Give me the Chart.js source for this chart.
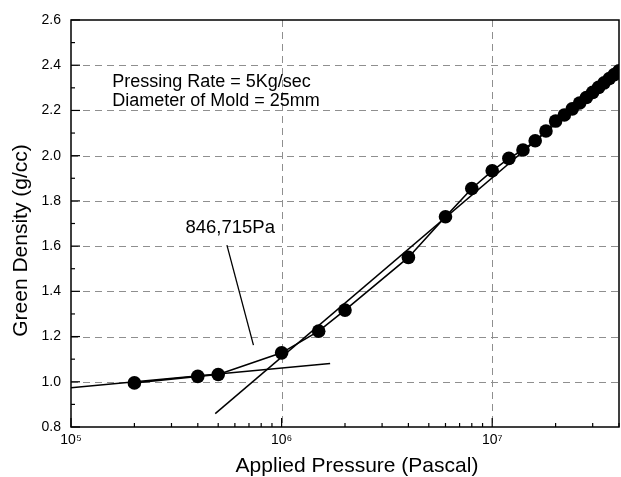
<!DOCTYPE html>
<html>
<head>
<meta charset="utf-8">
<script src="https://cdn.jsdelivr.net/npm/chart.js@4/dist/chart.umd.min.js"></script>
<style>
html,body{margin:0;padding:0;background:#fff;}
#wrap{width:621px;height:477px;}
</style>
</head>
<body>
<div id="wrap"><canvas id="c" width="621" height="477"></canvas></div>
<script>
// ---- data ----
const pressure = [2e5, 4e5, 5e5, 1e6, 1.5e6, 2e6, 4e6, 6e6, 8e6, 1e7, 1.2e7, 1.4e7, 1.6e7, 1.8e7, 2e7,
                  2.2e7, 2.4e7, 2.6e7, 2.8e7, 3e7, 3.2e7, 3.4e7, 3.6e7, 3.8e7, 4e7];
const density  = [0.995, 1.024, 1.032, 1.128, 1.224, 1.317, 1.550, 1.730, 1.855, 1.933, 1.988, 2.025, 2.066, 2.109, 2.153,
                  2.180, 2.207, 2.233, 2.257, 2.280, 2.302, 2.322, 2.341, 2.359, 2.375];
// fitted lines (end points)
const lowFitX  = [1e5, 1.7e6];
const lowFitY  = [0.974, 1.081];
const highFitX = [4.84e5, 4e7];
const highFitY = [0.859, 2.38];
// axis
const xMin = 1e5, xMax = 4e7;
const yMin = 0.8, yMax = 2.6, yStep = 0.2;
const xMajorTicks = [1e5, 1e6, 1e7];
const xTickLabels = ['10\u2075', '10\u2076', '10\u2077'];
const xGridValues = [1e6, 1e7];
const yGridValues = [1.0, 1.2, 1.4, 1.6, 1.8, 2.0, 2.2, 2.4];
// annotation texts (data coordinates)
const infoLines = ['Pressing Rate = 5Kg/sec', 'Diameter of Mold = 25mm'];
const infoPos = {x: 1.57e5, y: [2.325, 2.24]};
const breakLabel = '846,715Pa';
const breakLabelPos = {x: 5.7e5, y: 1.68};
const arrowFrom = {x: 5.5e5, y: 1.604};
const arrowTo = {x: 7.35e5, y: 1.162};
const xTitle = 'Applied Pressure (Pascal)';
const yTitle = 'Green Density (g/cc)';

const FONT = '"Liberation Sans", Arial, sans-serif';

function pts(xs, ys){ return xs.map((x,i)=>({x:x, y:ys[i]})); }

const decor = {
  id: 'decor',
  beforeDatasetsDraw(chart){
    const ctx = chart.ctx, a = chart.chartArea;
    const xs = chart.scales.x, ys = chart.scales.y;
    ctx.save();
    ctx.strokeStyle = '#8f8f8f';
    ctx.lineWidth = 1;
    ctx.setLineDash([7,5]);
    yGridValues.forEach(v=>{
      const p = Math.round(ys.getPixelForValue(v))+0.5;
      ctx.beginPath(); ctx.moveTo(a.left, p); ctx.lineTo(a.right, p); ctx.stroke();
    });
    xGridValues.forEach(v=>{
      const p = Math.round(xs.getPixelForValue(v))+0.5;
      ctx.beginPath(); ctx.moveTo(p, a.top); ctx.lineTo(p, a.bottom); ctx.stroke();
    });
    ctx.restore();
  },
  afterDraw(chart){
    const ctx = chart.ctx, a = chart.chartArea;
    const xs = chart.scales.x, ys = chart.scales.y;
    ctx.save();
    // frame
    ctx.strokeStyle = '#000';
    ctx.lineWidth = 1.5;
    ctx.strokeRect(a.left, a.top, a.right-a.left, a.bottom-a.top);
    // inward ticks on y axis
    ctx.lineWidth = 1.2;
    for (let i=0;i<=18;i++){
      const v = yMin + i*0.1;
      const p = ys.getPixelForValue(v);
      const len = (i%2===0) ? 9 : 4;
      ctx.beginPath(); ctx.moveTo(a.left, p); ctx.lineTo(a.left+len, p); ctx.stroke();
    }
    // inward ticks on x axis
    for (let e=5;e<=7;e++){
      for (let m=1;m<=9;m++){
        const v = m*Math.pow(10,e);
        if (v < xMin || v > xMax) continue;
        const p = xs.getPixelForValue(v);
        const len = (m===1) ? 9 : 4;
        ctx.beginPath(); ctx.moveTo(p, a.bottom); ctx.lineTo(p, a.bottom-len); ctx.stroke();
      }
    }
    // arrow to the break point
    ctx.lineWidth = 1.3;
    ctx.beginPath();
    ctx.moveTo(xs.getPixelForValue(arrowFrom.x), ys.getPixelForValue(arrowFrom.y));
    ctx.lineTo(xs.getPixelForValue(arrowTo.x), ys.getPixelForValue(arrowTo.y));
    ctx.stroke();
    // texts
    ctx.fillStyle = '#000';
    ctx.textBaseline = 'middle';
    ctx.textAlign = 'left';
    ctx.font = '18px ' + FONT;
    infoLines.forEach((t,i)=>{
      ctx.fillText(t, xs.getPixelForValue(infoPos.x), ys.getPixelForValue(infoPos.y[i]));
    });
    ctx.textAlign = 'center';
    ctx.font = '18.5px ' + FONT;
    ctx.fillText(breakLabel, xs.getPixelForValue(breakLabelPos.x), ys.getPixelForValue(breakLabelPos.y));
    // axis titles
    ctx.font = '21px ' + FONT;
    ctx.fillText(xTitle, (a.left+a.right)/2 + 12, 466);
    ctx.save();
    ctx.translate(21, (a.top+a.bottom)/2 + 17);
    ctx.rotate(-Math.PI/2);
    ctx.fillText(yTitle, 0, 0);
    ctx.restore();
    ctx.restore();
  }
};

new Chart(document.getElementById('c'), {
  type: 'scatter',
  data: {
    datasets: [
      {
        label: 'Green density',
        data: pts(pressure, density),
        showLine: true,
        clip: 0,
        borderColor: '#000',
        borderWidth: 1.6,
        backgroundColor: '#000',
        pointRadius: 6.8,
        pointHoverRadius: 6.8,
        pointBorderWidth: 0
      },
      {
        label: 'Low pressure fit',
        data: pts(lowFitX, lowFitY),
        showLine: true,
        clip: 0,
        borderColor: '#000',
        borderWidth: 1.5,
        pointRadius: 0
      },
      {
        label: 'High pressure fit',
        data: pts(highFitX, highFitY),
        showLine: true,
        clip: 0,
        borderColor: '#000',
        borderWidth: 1.5,
        pointRadius: 0
      }
    ]
  },
  options: {
    responsive: false,
    animation: false,
    devicePixelRatio: 1,
    layout: { autoPadding: false, padding: { top: 20, right: 2, left: 0, bottom: 0 } },
    plugins: { legend: { display: false }, tooltip: { enabled: false } },
    scales: {
      x: {
        type: 'logarithmic',
        min: xMin, max: xMax,
        afterFit(s){ s.height = 50; s.paddingRight = 0; s.paddingLeft = 0; },
        afterBuildTicks(s){ s.ticks = xMajorTicks.map(v=>({value:v})); },
        grid: { display: false, drawTicks: false },
        border: { display: false },
        ticks: {
          autoSkip: false, maxRotation: 0, padding: 5,
          color: '#000',
          font: { family: FONT, size: 14 },
          callback(v){ const i = xMajorTicks.indexOf(v); return i>=0 ? xTickLabels[i] : ''; }
        }
      },
      y: {
        min: yMin, max: yMax,
        afterFit(s){ s.width = 71; s.paddingTop = 0; s.paddingBottom = 0; },
        grid: { display: false, drawTicks: false },
        border: { display: false },
        ticks: {
          stepSize: yStep, padding: 10,
          color: '#000',
          font: { family: FONT, size: 14 },
          callback(v){ return Number(v).toFixed(1); }
        }
      }
    }
  },
  plugins: [decor]
});
</script>
</body>
</html>
